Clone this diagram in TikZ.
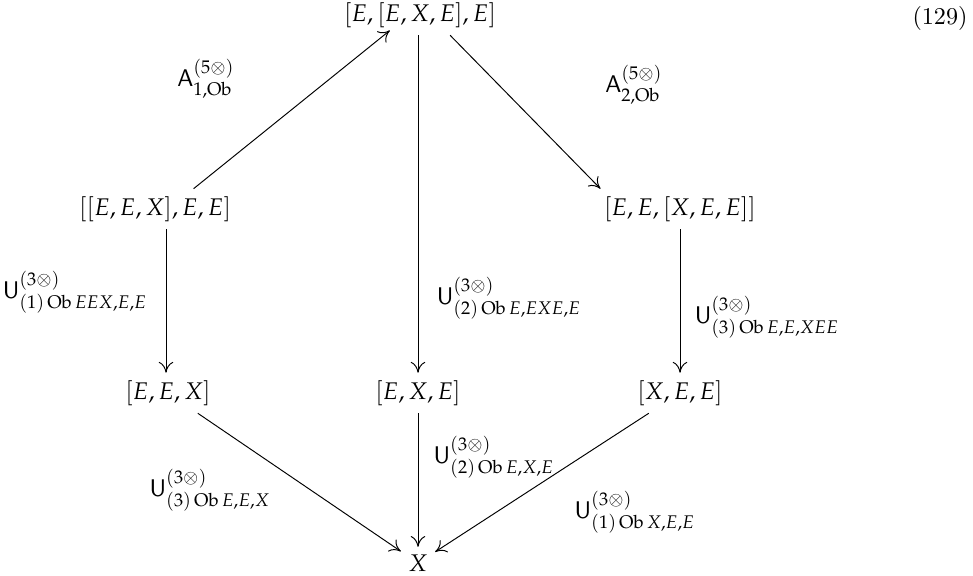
\documentclass[tikz,border=0pt]{standalone}
\usepackage{mathpazo}
\usepackage{amsmath}
\usetikzlibrary{arrows.meta}

\newcommand{\Ucomp}[2]{\mathsf{U}^{(3\otimes)}_{(#1)\,\mathrm{Ob}\,#2}}
\newcommand{\Acomp}[1]{\mathsf{A}^{(5\otimes)}_{#1,\mathrm{Ob}}}

\tikzset{
  obj/.style={inner sep=3pt},
  lab/.style={inner sep=1pt},
  map/.style={-{To[length=4.5pt,width=6pt]},line width=0.4pt}
}

\begin{document}
\begin{tikzpicture}[x=0.415pt,y=-0.415pt]
\useasboundingbox (0,0) rectangle (973,576);
% objects
\node[obj] (top) at (420,15) {$[E,[E,X,E],E]$};
\node[obj] (lft) at (155,209) {$[[E,E,X],E,E]$};
\node[obj] (rgt) at (680,209) {$[E,E,[X,E,E]]$};
\node[obj] (eex) at (168,393) {$[E,E,X]$};
\node[obj] (exe) at (418,393) {$[E,X,E]$};
\node[obj] (xee) at (680,393) {$[X,E,E]$};
\node[obj] (bot) at (418,563) {$X$};
\node (eqno) at (940,18) {(129)};
% arrows
\draw[map] ([xshift=16pt]lft.north) -- ([xshift=-12.5pt,yshift=2pt]top.south);
\draw[map] ([xshift=12.5pt]top.south) -- ([xshift=-33pt]rgt.north);
\draw[map] (lft.south -| 166,0) -- (eex.north -| 166,0);
\draw[map] (top.south -| exe) -- (exe);
\draw[map] (rgt) -- (xee);
\draw[map] (eex) -- (bot);
\draw[map] (exe) -- (bot);
\draw[map] (xee) -- (bot);
% labels
\node[lab] (a1) at (206,79) {$\Acomp{1}$};
\node[lab] (a2) at (634,85) {$\Acomp{2}$};
\node[lab] (u1) at (75,292) {$\Ucomp{1}{EEX,E,E}$};
\node[lab] (u2) at (509,298) {$\Ucomp{2}{E,EXE,E}$};
\node[lab] (u3) at (767,317) {$\Ucomp{3}{E,E,XEE}$};
\node[lab] (u4) at (210,490) {$\Ucomp{3}{E,E,X}$};
\node[lab] (u5) at (494,457) {$\Ucomp{2}{E,X,E}$};
\node[lab] (u6) at (635,512) {$\Ucomp{1}{X,E,E}$};
\end{tikzpicture}
\end{document}
